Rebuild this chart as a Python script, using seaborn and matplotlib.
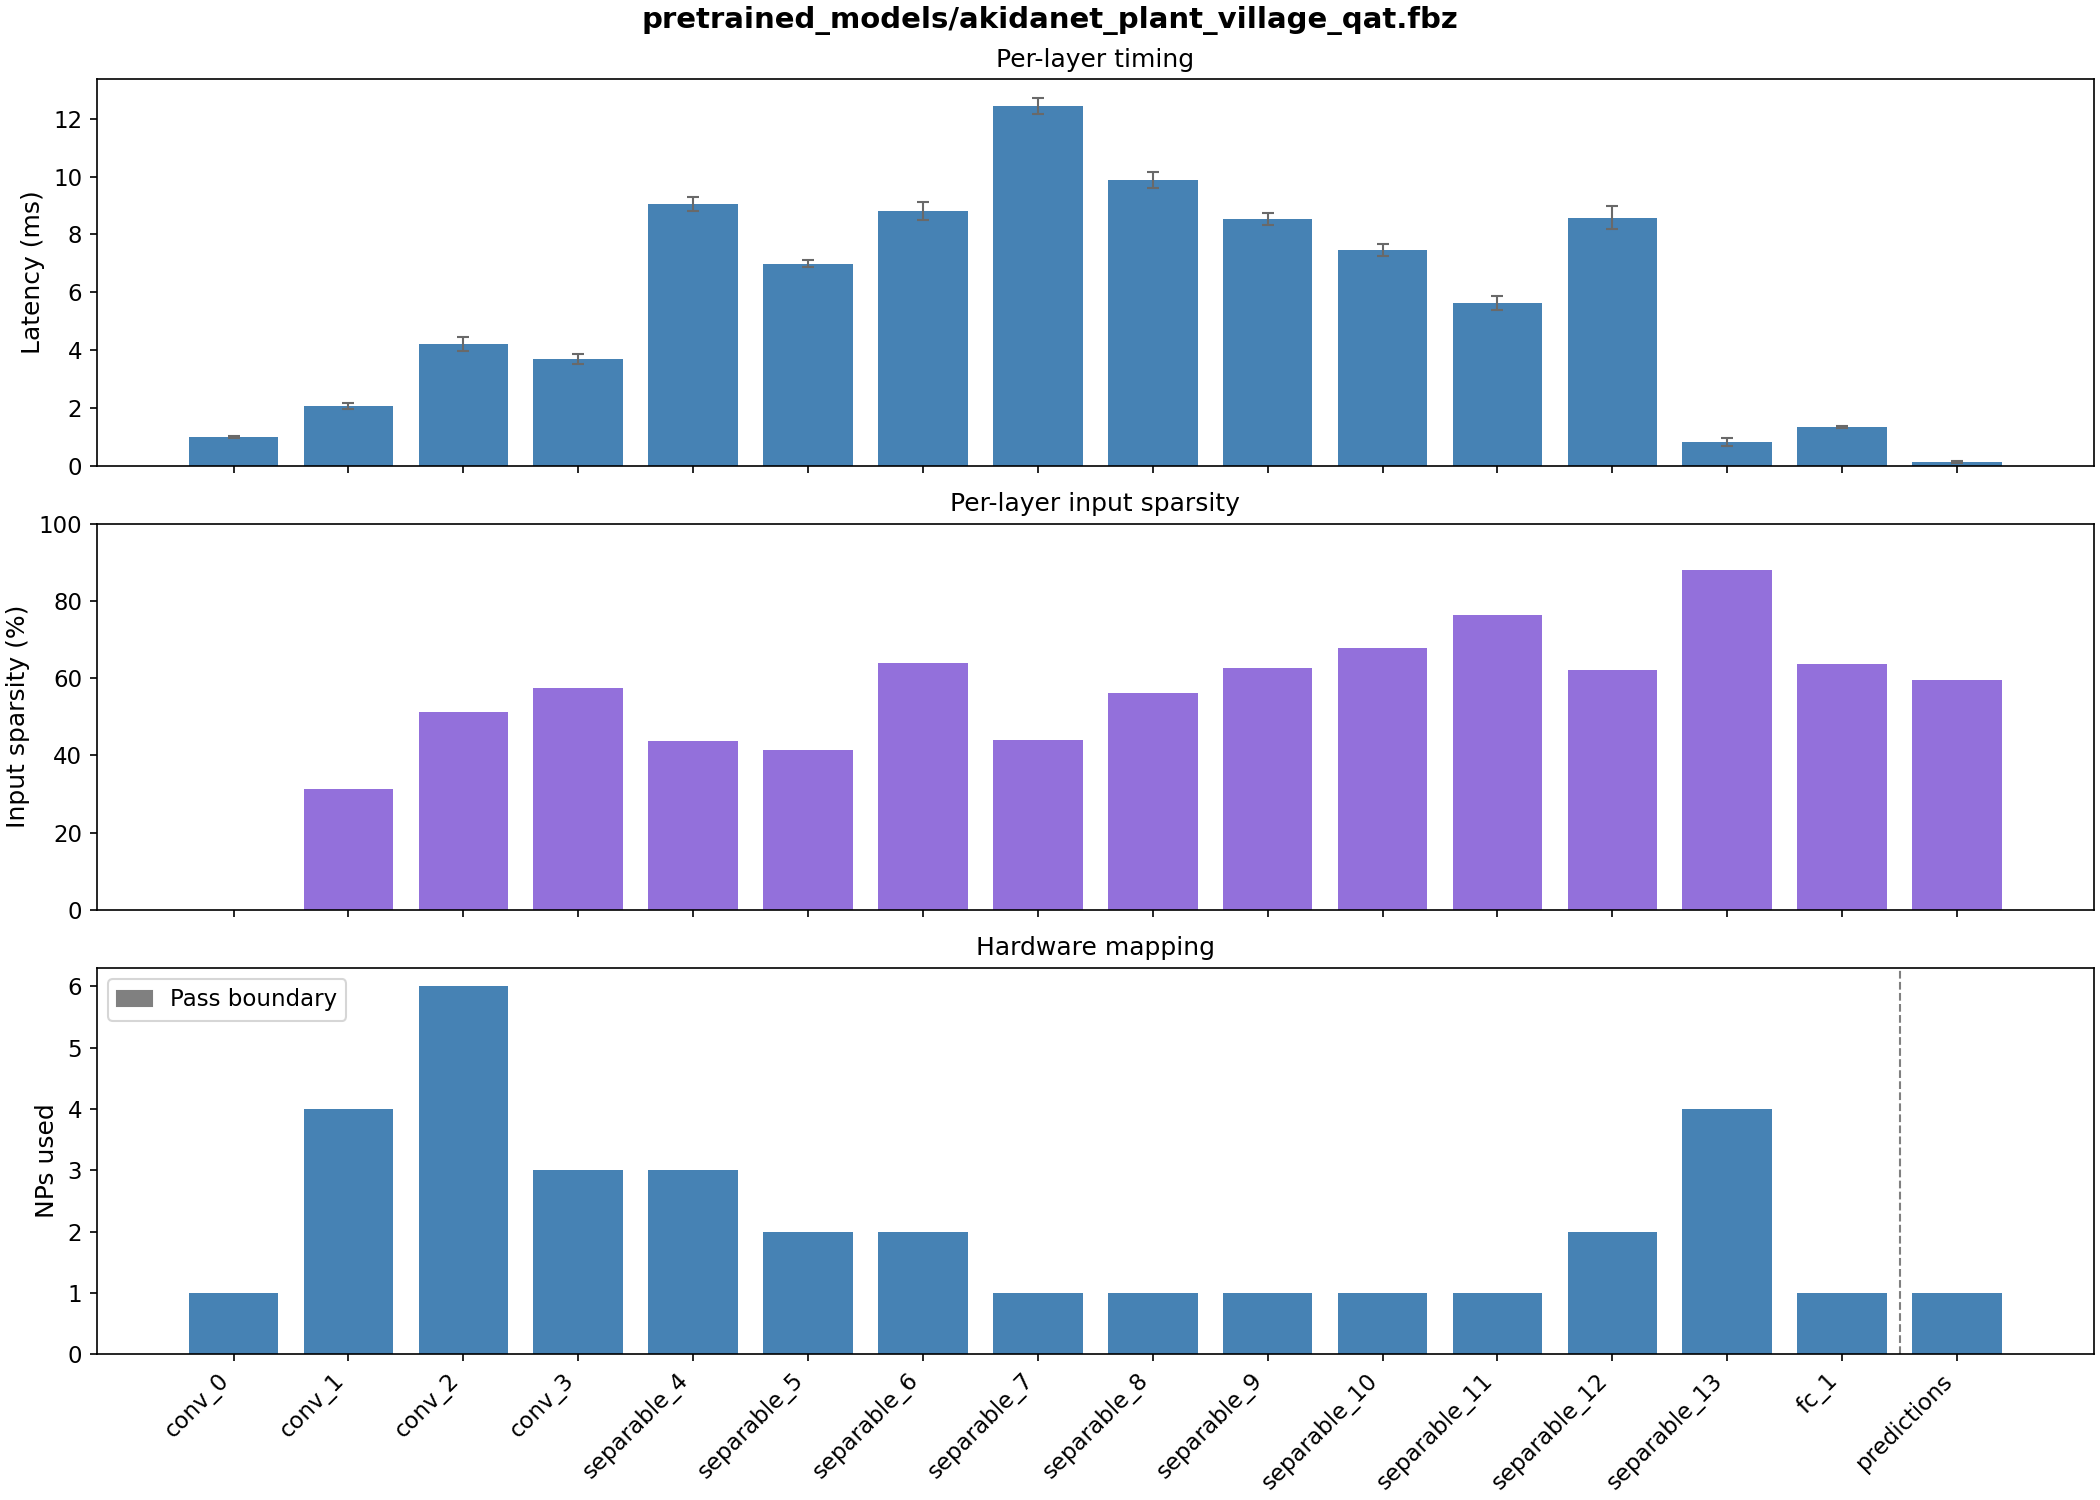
import matplotlib
matplotlib.use('Agg')
import matplotlib.pyplot as plt
from matplotlib.patches import Patch
import seaborn as sns
import pandas as pd
import numpy as np

plt.rcParams.update({'font.size': 12, 'axes.titlesize': 12, 'axes.labelsize': 12,
                     'xtick.labelsize': 11, 'ytick.labelsize': 11,
                     'legend.fontsize': 11, 'figure.titlesize': 14})

layers = ['conv_0', 'conv_1', 'conv_2', 'conv_3', 'separable_4', 'separable_5',
          'separable_6', 'separable_7', 'separable_8', 'separable_9', 'separable_10',
          'separable_11', 'separable_12', 'separable_13', 'fc_1', 'predictions']
latency_ms = [0.99, 2.07, 4.21, 3.69, 9.05, 6.98, 8.81, 12.45, 9.89, 8.54, 7.46,
              5.63, 8.57, 0.82, 1.34, 0.13]
latency_std = [0.03, 0.10, 0.23, 0.18, 0.25, 0.12, 0.30, 0.28, 0.28, 0.20, 0.20,
               0.24, 0.40, 0.15, 0.04, 0.04]
sparsity_pct = [0.0, 31.4, 51.2, 57.5, 43.7, 41.5, 63.9, 43.9, 56.1, 62.6, 67.8,
                76.3, 62.0, 88.1, 63.7, 59.6]
nps_used = [1, 4, 6, 3, 3, 2, 2, 1, 1, 1, 1, 1, 2, 4, 1, 1]
pass_boundaries = [14.5]

df = pd.DataFrame({'layer': layers, 'lat': latency_ms, 'std': latency_std,
                   'sparsity': sparsity_pct, 'nps': nps_used})

fig, axes = plt.subplots(3, 1, figsize=(14, 10), sharex=True, layout='constrained')

ax = axes[0]
sns.barplot(data=df, x='layer', y='lat', color='steelblue', saturation=1,
            width=0.78, ax=ax)
ax.errorbar(np.arange(len(layers)), df['lat'], yerr=df['std'], fmt='none',
            ecolor='dimgray', elinewidth=1, capsize=3, capthick=1)
ax.set_ylabel('Latency (ms)')
ax.set_xlabel('')
ax.set_title('Per-layer timing')

ax = axes[1]
sns.barplot(data=df, x='layer', y='sparsity', color='mediumpurple', saturation=1,
            width=0.78, ax=ax)
ax.set_ylim(0, 100)
ax.set_ylabel('Input sparsity (%)')
ax.set_xlabel('')
ax.set_title('Per-layer input sparsity')

ax = axes[2]
sns.barplot(data=df, x='layer', y='nps', color='steelblue', saturation=1,
            width=0.78, ax=ax)
for b in pass_boundaries:
    ax.axvline(b, color='gray', linestyle='--', linewidth=1)
ax.legend(handles=[Patch(color='gray', label='Pass boundary')], loc='upper left',
          handlelength=1.5, handleheight=0.6)
ax.set_ylabel('NPs used')
ax.set_xlabel('')
ax.set_title('Hardware mapping')
ax.tick_params(axis='x', labelbottom=True)
plt.setp(ax.get_xticklabels(), rotation=45, ha='right')

for a in axes:
    a.set_xlim(-1.19, 16.19)

fig.suptitle('pretrained_models/akidanet_plant_village_qat.fbz', fontweight='bold')
fig.savefig('out.png', dpi=150)
